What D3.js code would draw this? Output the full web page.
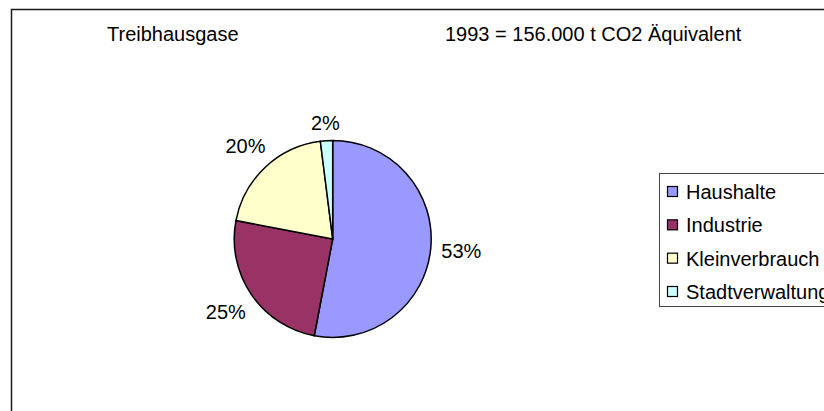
<!DOCTYPE html>
<html>
<head>
<meta charset="utf-8">
<script src="https://cdn.jsdelivr.net/npm/d3@7"></script>
<style>
  html, body { margin: 0; padding: 0; background: #fff; }
  svg { display: block; }
  text { font-family: "Liberation Sans", Arial, sans-serif; fill: #000; }
</style>
</head>
<body>
<svg id="chart" width="824" height="411"></svg>
<script>
// Greenhouse gas shares by sector, 1993
const categories = ["Haushalte", "Industrie", "Kleinverbrauch", "Stadtverwaltung"];
const shares = [53, 25, 20, 2];
const colors = ["#9999FF", "#993366", "#FFFFCC", "#CCFFFF"];
const titleLeft = "Treibhausgase";
const titleRight = "1993 = 156.000 t CO2 Äquivalent";

const svg = d3.select("#chart");
const fontSize = 20;

// chart frame (runs off the right and bottom edges)
svg.append("rect")
  .attr("x", 11.5).attr("y", 9.5)
  .attr("width", 840).attr("height", 420)
  .attr("fill", "#fff")
  .attr("stroke", "#1a1a1a").attr("stroke-width", 1.5);

// titles
svg.append("text").attr("x", 107).attr("y", 41)
  .style("font-size", fontSize + "px").text(titleLeft);
svg.append("text").attr("x", 445).attr("y", 41)
  .style("font-size", fontSize + "px").text(titleRight);

// pie
const cx = 332.7, cy = 239, r = 98.5;
const color = d3.scaleOrdinal().domain(categories).range(colors);
const pie = d3.pie().sort(null).value(d => d.value);
const arcs = pie(categories.map((c, i) => ({ name: c, value: shares[i] })));
const arc = d3.arc().innerRadius(0).outerRadius(r);

const g = svg.append("g").attr("transform", `translate(${cx},${cy})`);
g.selectAll("path.slice").data(arcs).join("path")
  .attr("class", "slice")
  .attr("d", arc)
  .attr("fill", d => color(d.data.name))
  .attr("stroke", "#000").attr("stroke-width", 1.5)
  .attr("stroke-linejoin", "round");

// outside percentage labels: text box kept a fixed gap from the rim
const gap = 10;
const total = d3.sum(shares);
g.selectAll("text.lbl").data(arcs).join("text")
  .attr("class", "lbl")
  .style("font-size", fontSize + "px")
  .attr("text-anchor", "middle")
  .text(d => Math.round(d.data.value / total * 100) + "%")
  .each(function (d) {
    const bb = this.getBBox();
    const a = (d.startAngle + d.endAngle) / 2;
    const dx = Math.sin(a), dy = -Math.cos(a);
    const capH = fontSize * 0.716;
    const R = r + gap + Math.abs(dx) * bb.width / 2 + Math.abs(dy) * capH / 2;
    d3.select(this)
      .attr("x", dx * R)
      .attr("y", dy * R + capH / 2);
  });

// legend (runs off the right edge)
const lg = svg.append("g");
lg.append("rect")
  .attr("x", 659.5).attr("y", 173.5)
  .attr("width", 200).attr("height", 133)
  .attr("fill", "#fff")
  .attr("stroke", "#444").attr("stroke-width", 1);

const ly = d3.scalePoint().domain(categories).range([192, 292]);
const items = lg.selectAll("g.item").data(categories).join("g").attr("class", "item");
items.append("rect")
  .attr("x", 667.5).attr("y", d => ly(d) - 5.5)
  .attr("width", 10).attr("height", 10)
  .attr("fill", d => color(d))
  .attr("stroke", "#000").attr("stroke-width", 1.2);
items.append("text")
  .attr("x", 686).attr("y", d => ly(d) + 7)
  .style("font-size", fontSize + "px")
  .text(d => d);
</script>
</body>
</html>
